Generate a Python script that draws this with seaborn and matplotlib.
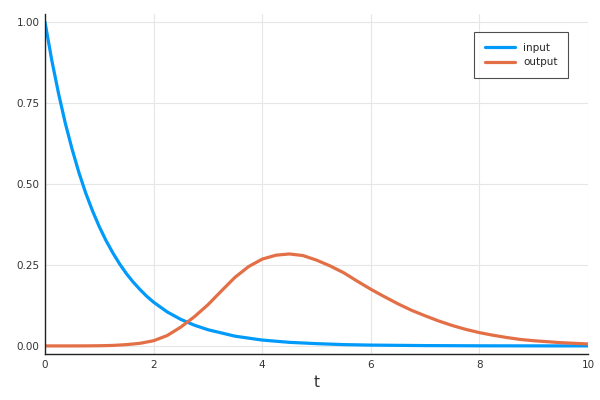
import matplotlib.pyplot as plt
import pandas as pd
import seaborn as sns

# values (denser where the curve bends fast)
t_input = [
    0, 0.125, 0.25, 0.375, 0.5, 0.625, 0.75, 0.875, 1.0, 1.125, 1.25, 1.375,
    1.5, 1.625, 1.75, 1.875, 2.0, 2.25, 2.5, 2.75, 3.0, 3.5, 4.0, 4.5, 5.0,
    5.5, 6.0, 7.0, 8.0, 9.0, 10.0,
]
input_vals = [
    1.000, 0.882, 0.779, 0.687, 0.607, 0.535, 0.472, 0.417, 0.368, 0.325,
    0.287, 0.253, 0.223, 0.197, 0.174, 0.153, 0.135, 0.105, 0.082, 0.064,
    0.050, 0.030, 0.018, 0.011, 0.007, 0.004, 0.0025, 0.001, 0.0003, 0.0001,
    0.0,
]
t_output = [
    0, 0.25, 0.5, 0.75, 1.0, 1.25, 1.5, 1.75, 2.0, 2.25, 2.5, 2.75, 3.0, 3.25,
    3.5, 3.75, 4.0, 4.25, 4.5, 4.75, 5.0, 5.25, 5.5, 5.75, 6.0, 6.25, 6.5,
    6.75, 7.0, 7.25, 7.5, 7.75, 8.0, 8.25, 8.5, 8.75, 9.0, 9.25, 9.5, 9.75,
    10.0,
]
output_vals = [
    0.0, 0.0, 0.0, 0.0001, 0.0005, 0.0015, 0.004, 0.008, 0.016, 0.032,
    0.058, 0.090, 0.127, 0.170, 0.212, 0.245, 0.268, 0.280, 0.284, 0.279,
    0.265, 0.247, 0.226, 0.200, 0.175, 0.152, 0.130, 0.110, 0.093, 0.077,
    0.063, 0.051, 0.041, 0.033, 0.026, 0.020, 0.016, 0.013, 0.010, 0.008,
    0.006,
]
colors = ["#009AFA", "#E36F47"]

long = pd.concat([
    pd.DataFrame({"t": t_input, "y": input_vals, "series": "input"}),
    pd.DataFrame({"t": t_output, "y": output_vals, "series": "output"}),
])

sns.set_style("white")
plt.rcParams["font.family"] = ["DejaVu Sans"]

fig = plt.figure(figsize=(6, 4), dpi=100)
ax = fig.add_axes([0.075, 0.115, 0.905, 0.85])
sns.lineplot(data=long, x="t", y="y", hue="series", palette=colors,
             linewidth=2.3, ax=ax)

ax.set_xlim(0, 10)
ax.set_ylim(-0.025, 1.025)
ax.set_xticks([0, 2, 4, 6, 8, 10])
ax.set_yticks([0, 0.25, 0.5, 0.75, 1.0])
ax.set_yticklabels(["0.00", "0.25", "0.50", "0.75", "1.00"])
ax.grid(True, color="#e6e6e6", linewidth=0.8)
ax.set_xlabel("t", fontsize=11, color="#333333")
ax.set_ylabel("")
for side in ["top", "right"]:
    ax.spines[side].set_visible(False)
for side in ["left", "bottom"]:
    ax.spines[side].set_color("#222222")
    ax.spines[side].set_linewidth(1.0)
ax.tick_params(direction="in", length=5, width=0.8, color="#222222",
               labelsize=7.5, labelcolor="#333333", pad=4)

leg = ax.legend(loc="upper right", bbox_to_anchor=(0.973, 0.962), fontsize=7.5,
                frameon=True, fancybox=False, handlelength=2.9,
                borderpad=1.0, labelspacing=0.45)
leg.get_frame().set_edgecolor("#222222")
leg.get_frame().set_linewidth(0.8)

fig.savefig("out.png", dpi=100)
